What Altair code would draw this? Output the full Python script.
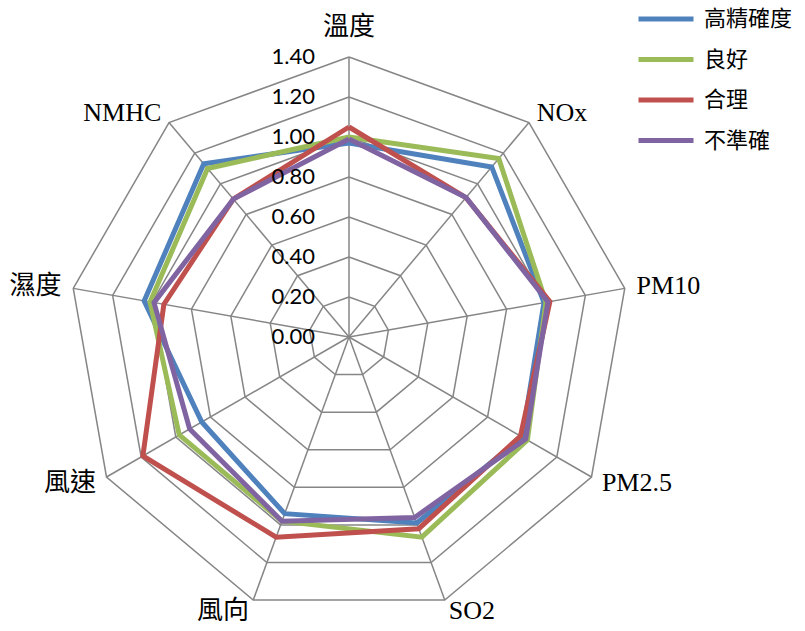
import altair as alt
import pandas as pd

# ---------------- data ----------------
categories = ["溫度", "NOx", "PM10", "PM2.5", "SO2", "風向", "風速", "濕度", "NMHC"]
series_names = ["高精確度", "良好", "合理", "不準確"]
v_high = [0.97, 1.11, 0.99, 1.00, 0.99, 0.94, 0.85, 1.04, 1.13]
v_good = [1.00, 1.165, 1.00, 1.03, 1.065, 0.98, 0.98, 1.01, 1.10]
v_fair = [1.05, 0.91, 1.02, 0.99, 1.02, 1.065, 1.19, 0.94, 0.90]
v_bad = [0.99, 0.91, 1.01, 1.02, 0.96, 0.98, 0.92, 0.99, 0.90]
ticks = [0.0, 0.2, 0.4, 0.6, 0.8, 1.0, 1.2, 1.4]
colors = ["#4F81BD", "#9BBB59", "#C0504D", "#8064A2"]

N = len(categories)
tmax = max(ticks)

rows = []
for k, (s, vals) in enumerate(zip(series_names, [v_high, v_good, v_fair, v_bad])):
    for i in range(N + 1):
        rows.append({"series": s, "k": k, "idx": i, "value": vals[i % N]})
df = pd.DataFrame(rows)

grid_df = pd.DataFrame([{"ring": t, "idx": i} for t in ticks[1:] for i in range(N + 1)])
cat_df = pd.DataFrame([{"idx": i, "category": c} for i, c in enumerate(categories)])
tick_df = pd.DataFrame({"value": ticks})

ANG = f"(datum.idx * 2 * PI / {N})"

xs = alt.Scale(domain=[-1.745, 2.28], nice=False, zero=False)
ys = alt.Scale(domain=[-1.47, 1.685], nice=False, zero=False)

X = alt.X("x:Q", scale=xs, axis=None)
Y = alt.Y("y:Q", scale=ys, axis=None)

grid = alt.Chart(grid_df).transform_calculate(
    x=f"datum.ring * sin({ANG})", y=f"datum.ring * cos({ANG})"
).mark_line(color="#868686", strokeWidth=1.5).encode(
    x=X, y=Y, detail="ring:N", order="idx:Q"
)

spokes = alt.Chart(cat_df).transform_calculate(
    x="0", y="0",
    x2=f"{tmax} * sin({ANG})", y2=f"{tmax} * cos({ANG})"
).mark_rule(color="#868686", strokeWidth=1.5).encode(
    x=X, y=Y, x2="x2:Q", y2="y2:Q"
)

lines = alt.Chart(df).transform_calculate(
    x=f"datum.value * sin({ANG})", y=f"datum.value * cos({ANG})"
).mark_line(strokeWidth=5, strokeJoin="miter").encode(
    x=X, y=Y,
    color=alt.Color(
        "series:N",
        sort=series_names,
        scale=alt.Scale(domain=series_names, range=colors),
        legend=alt.Legend(
            title=None, orient="none", legendX=636, legendY=1,
            symbolType="stroke", symbolSize=3025, symbolStrokeWidth=5,
            labelFont="Noto Sans CJK TC", labelFontSize=22, labelColor="black",
            labelOffset=8, clipHeight=36, rowPadding=4.5, padding=0,
            labelLimit=200,
        ),
    ),
    detail="k:O",
    order="idx:Q",
)

tick_labels = alt.Chart(tick_df).transform_calculate(
    x="0", y="datum.value", label="format(datum.value, '.2f')"
).mark_text(
    align="right", baseline="middle", dx=-34, font="Lato", fontSize=22, color="black"
).encode(x=X, y=Y, text="label:N")

LABEL_FONT = "Liberation Serif, Noto Sans CJK TC"
r_lab = tmax + 0.06


def cat_layer(flt, align, dy=0):
    return alt.Chart(cat_df).transform_filter(flt).transform_calculate(
        x=f"{r_lab} * sin({ANG})", y=f"{r_lab} * cos({ANG})"
    ).mark_text(
        align=align, baseline="middle", dy=dy, font=LABEL_FONT, fontSize=26, color="black"
    ).encode(x=X, y=Y, text="category:N")


lab_c = cat_layer("datum.idx == 0", "center", dy=-18)
lab_l = cat_layer("datum.idx >= 1 && datum.idx <= 4", "left")
lab_r = cat_layer("datum.idx >= 5", "right")

chart = alt.layer(grid, spokes, lines, tick_labels, lab_c, lab_l, lab_r).properties(
    width=805, height=631,
    autosize=alt.AutoSizeParams(type="none"),
    padding=0,
    background="white",
).configure_view(stroke="transparent")

chart.save("out.html", embed_options={"renderer": "svg", "actions": False})
